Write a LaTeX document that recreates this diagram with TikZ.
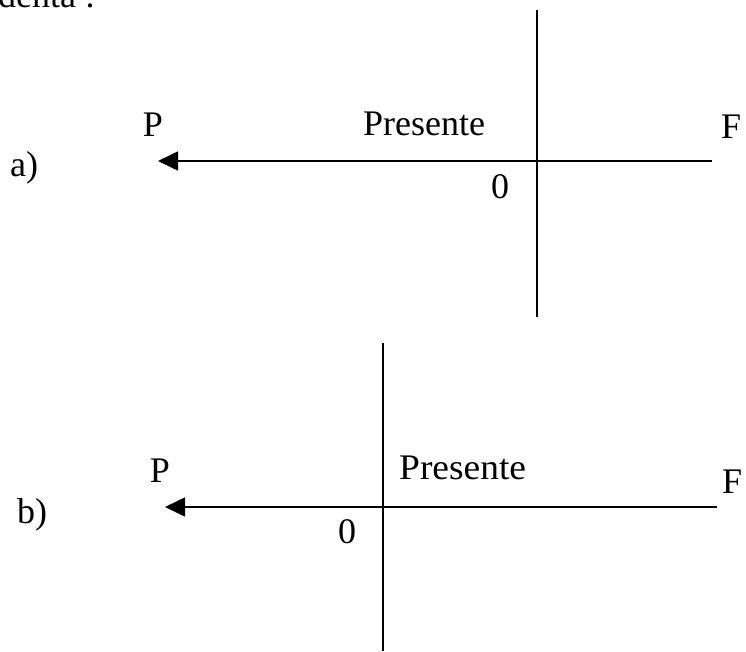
\documentclass[tikz,border=0pt]{standalone}
\usepackage{fontspec}
\setmainfont{Liberation Serif}
\usetikzlibrary{arrows.meta}
\begin{document}
\begin{tikzpicture}[x=1pt,y=-1pt,
  axis/.style={line width=1.6pt},
  timeline/.style={line width=1.6pt,-{Triangle[length=20pt,width=19pt]}},
  lbl/.style={font=\fontsize{36}{40}\selectfont,inner sep=0pt,anchor=base},
  lblw/.style={lbl,anchor=base west}]
\useasboundingbox (0,0) rectangle (746,651);
\clip (0,0) rectangle (746,651);
% running text cut at the page top
\node[lblw] (head) at (-2,7) {denta :};
% diagram a)
\coordinate (aTop) at (537,10);
\coordinate (aBot) at (537,317);
\coordinate (aR) at (712,161);
\coordinate (aL) at (158,161);
\draw[axis] (aTop) -- (aBot);
\draw[timeline] (aR) -- (aL);
\node[lblw] (aLab) at (10,176) {a)};
\node[lbl] (aP) at (153,136) {P};
\node[lblw] (aPres) at (363,135) {Presente};
\node[lbl] (aF) at (731,138) {F};
\node[lbl] (aZero) at (500,198) {0};
% diagram b)
\coordinate (bTop) at (383,343);
\coordinate (bBot) at (383,651);
\coordinate (bR) at (717,507);
\coordinate (bL) at (165,507);
\draw[axis] (bTop) -- (bBot);
\draw[timeline] (bR) -- (bL);
\node[lblw] (bLab) at (17,523) {b)};
\node[lbl] (bP) at (160,482) {P};
\node[lblw,xscale=1.04] (bPres) at (399,479) {Presente};
\node[lbl] (bF) at (732,493) {F};
\node[lbl] (bZero) at (347,543) {0};
\end{tikzpicture}
\end{document}
